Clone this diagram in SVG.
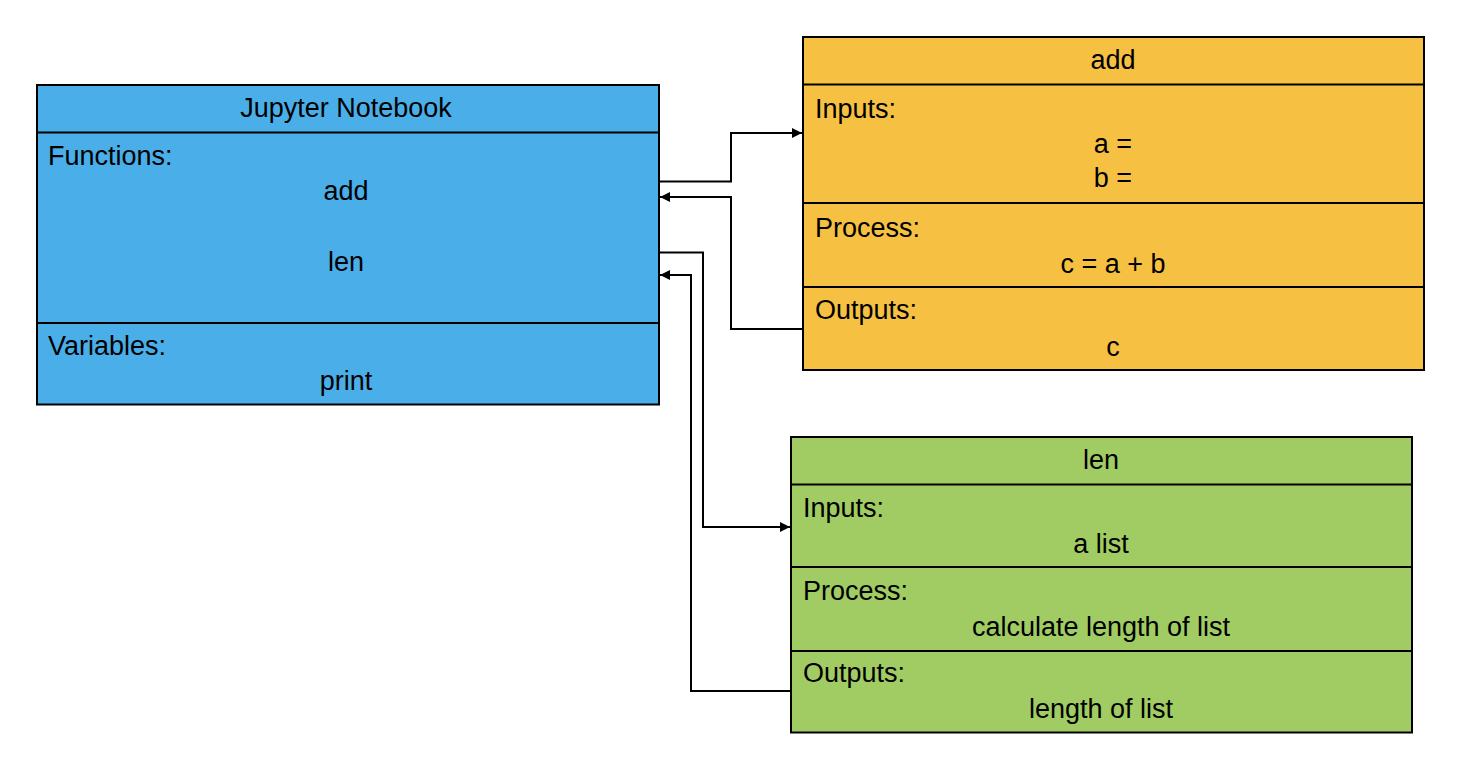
<svg xmlns="http://www.w3.org/2000/svg" width="1462" height="762" viewBox="0 0 1462 762">
<style>
.box{stroke:#000;stroke-width:2}
.div{stroke:#000;stroke-width:2}
.blue{fill:#4AAEE9}
.orange{fill:#F6C143}
.green{fill:#A0CC63}
text{font-family:"Liberation Sans",Arial,sans-serif;font-size:27px;fill:#000}
.c{text-anchor:middle}
.conn{fill:none;stroke:#000;stroke-width:2}
</style>
<defs>
<marker id="arr" viewBox="0 0 10 10" refX="10" refY="5" markerUnits="userSpaceOnUse" markerWidth="11" markerHeight="10" orient="auto">
<path d="M0,0 L10,5 L0,10 z" fill="#000"/>
</marker>
</defs>
<rect width="1462" height="762" fill="#fff"/>
<g id="jupyter">
<rect class="box blue" x="37" y="85" width="622" height="319.5"/>
<line class="div" x1="37" y1="132.5" x2="659" y2="132.5"/>
<line class="div" x1="37" y1="323" x2="659" y2="323"/>
<text class="c" x="346" y="117">Jupyter Notebook</text>
<text x="48" y="165">Functions:</text>
<text class="c" x="346" y="200">add</text>
<text class="c" x="346" y="271">len</text>
<text x="48" y="355">Variables:</text>
<text class="c" x="346" y="390">print</text>
</g>
<g id="add">
<rect class="box orange" x="803" y="37" width="621" height="333"/>
<line class="div" x1="803" y1="84.5" x2="1424" y2="84.5"/>
<line class="div" x1="803" y1="203" x2="1424" y2="203"/>
<line class="div" x1="803" y1="287" x2="1424" y2="287"/>
<text class="c" x="1113" y="69">add</text>
<text x="815" y="118">Inputs:</text>
<text class="c" x="1113" y="153">a =</text>
<text class="c" x="1113" y="187">b =</text>
<text x="815" y="237">Process:</text>
<text class="c" x="1113" y="273">c = a + b</text>
<text x="815" y="319">Outputs:</text>
<text class="c" x="1113" y="356">c</text>
</g>
<g id="len">
<rect class="box green" x="791" y="437" width="621" height="295.5"/>
<line class="div" x1="791" y1="484.5" x2="1412" y2="484.5"/>
<line class="div" x1="791" y1="567" x2="1412" y2="567"/>
<line class="div" x1="791" y1="651" x2="1412" y2="651"/>
<text class="c" x="1101" y="469">len</text>
<text x="803" y="517">Inputs:</text>
<text class="c" x="1101" y="553">a list</text>
<text x="803" y="600">Process:</text>
<text class="c" x="1101" y="636">calculate length of list</text>
<text x="803" y="682">Outputs:</text>
<text class="c" x="1101" y="718">length of list</text>
</g>
<g id="connectors">
<path class="conn" d="M659,181.5 H731 V133 H802" marker-end="url(#arr)"/>
<path class="conn" d="M803,329 H731 V197 H660" marker-end="url(#arr)"/>
<path class="conn" d="M659,252.5 H703 V527 H790" marker-end="url(#arr)"/>
<path class="conn" d="M790,691 H691 V275 H660" marker-end="url(#arr)"/>
</g>
</svg>
